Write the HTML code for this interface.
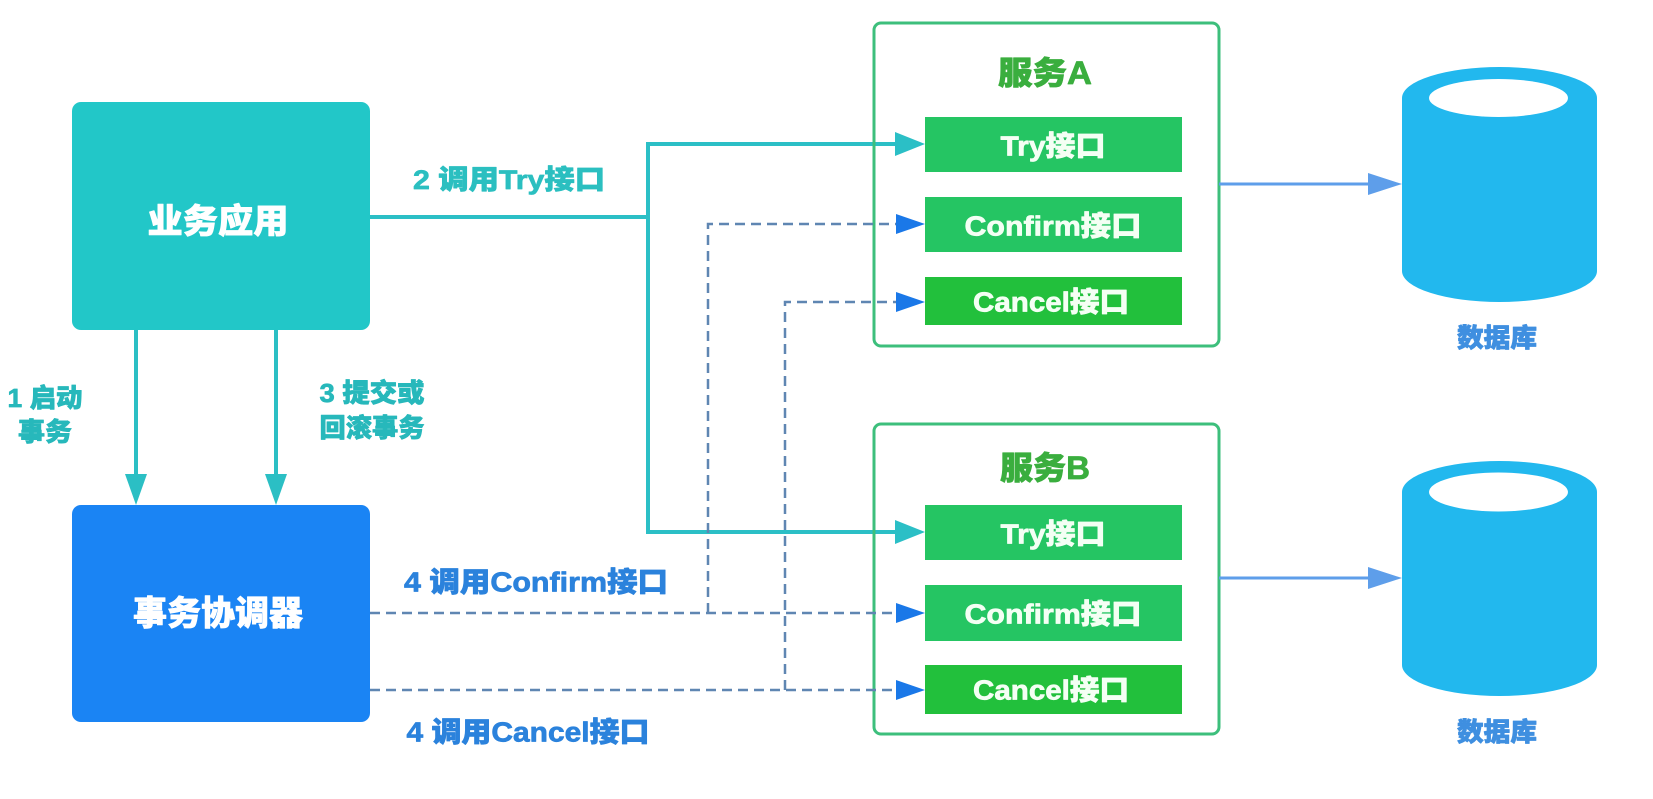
<!DOCTYPE html>
<html>
<head>
<meta charset="utf-8">
<style>
html,body{margin:0;padding:0;background:#fff;}
svg{display:block;}
text{font-family:"Liberation Sans","Noto Sans CJK SC","WenQuanYi Zen Hei",sans-serif;font-weight:900;dominant-baseline:central;stroke-width:0.7;stroke-linejoin:round;}
</style>
</head>
<body>
<svg width="1653" height="799" viewBox="0 0 1653 799" xmlns="http://www.w3.org/2000/svg">
  <rect x="0" y="0" width="1653" height="799" fill="#ffffff"/>

  <!-- 业务应用 -->
  <rect x="72" y="102" width="298" height="228" rx="9" fill="#22c7c8"/>
  <text x="218" y="222" font-size="34" fill="#ffffff" stroke="#ffffff" text-anchor="middle" textLength="141" lengthAdjust="spacingAndGlyphs">业务应用</text>

  <!-- 事务协调器 -->
  <rect x="72" y="505" width="298" height="217" rx="9" fill="#1a84f4"/>
  <text x="218" y="614" font-size="34" fill="#ffffff" stroke="#ffffff" text-anchor="middle" textLength="170" lengthAdjust="spacingAndGlyphs">事务协调器</text>

  <!-- down arrows -->
  <g stroke="#2bbfc4" stroke-width="4" fill="none">
    <line x1="136" y1="330" x2="136" y2="480"/>
    <line x1="276" y1="330" x2="276" y2="480"/>
  </g>
  <polygon points="125,474 147,474 136,505" fill="#2bbfc4"/>
  <polygon points="265,474 287,474 276,505" fill="#2bbfc4"/>

  <!-- left labels -->
  <text x="45" y="398" font-size="26" fill="#27b8bb" stroke="#27b8bb" text-anchor="middle" textLength="75" lengthAdjust="spacingAndGlyphs">1 启动</text>
  <text x="45" y="432" font-size="26" fill="#27b8bb" stroke="#27b8bb" text-anchor="middle" textLength="54" lengthAdjust="spacingAndGlyphs">事务</text>
  <text x="372" y="393" font-size="26" fill="#27b8bb" stroke="#27b8bb" text-anchor="middle" textLength="105" lengthAdjust="spacingAndGlyphs">3 提交或</text>
  <text x="372" y="428" font-size="26" fill="#27b8bb" stroke="#27b8bb" text-anchor="middle" textLength="105" lengthAdjust="spacingAndGlyphs">回滚事务</text>

  <!-- Try label -->
  <text x="509" y="180" font-size="27" fill="#2bbfc0" stroke="#2bbfc0" text-anchor="middle" textLength="192" lengthAdjust="spacingAndGlyphs">2 调用Try接口</text>

  <!-- Try connectors -->
  <g stroke="#2bbfc6" stroke-width="4" fill="none">
    <line x1="370" y1="217" x2="650" y2="217"/>
    <line x1="648" y1="142" x2="648" y2="534"/>
    <line x1="646" y1="144" x2="900" y2="144"/>
    <line x1="646" y1="532" x2="900" y2="532"/>
  </g>
  <polygon points="895,132 895,156 925,144" fill="#2bbfc6"/>
  <polygon points="895,520 895,544 925,532" fill="#2bbfc6"/>

  <!-- containers -->
  <rect x="874" y="23" width="345" height="323" rx="7" fill="none" stroke="#3dbf7c" stroke-width="3"/>
  <rect x="874" y="424" width="345" height="310" rx="7" fill="none" stroke="#3dbf7c" stroke-width="3"/>
  <text x="1045" y="73" font-size="32" fill="#3aae3e" stroke="#3aae3e" text-anchor="middle" textLength="94" lengthAdjust="spacingAndGlyphs">服务A</text>
  <text x="1045" y="468" font-size="32" fill="#3aae3e" stroke="#3aae3e" text-anchor="middle" textLength="90" lengthAdjust="spacingAndGlyphs">服务B</text>

  <!-- service A interfaces -->
  <rect x="925" y="117" width="257" height="55" fill="#25c563"/>
  <rect x="925" y="197" width="257" height="55" fill="#25c563"/>
  <rect x="925" y="277" width="257" height="48" fill="#22c03c"/>
  <text x="1053" y="146" font-size="28" fill="#f4fff4" stroke="#f4fff4" text-anchor="middle" textLength="105" lengthAdjust="spacingAndGlyphs">Try接口</text>
  <text x="1053" y="226" font-size="28" fill="#f4fff4" stroke="#f4fff4" text-anchor="middle" textLength="177" lengthAdjust="spacingAndGlyphs">Confirm接口</text>
  <text x="1051" y="302" font-size="28" fill="#f4fff4" stroke="#f4fff4" text-anchor="middle" textLength="156" lengthAdjust="spacingAndGlyphs">Cancel接口</text>

  <!-- service B interfaces -->
  <rect x="925" y="505" width="257" height="55" fill="#25c563"/>
  <rect x="925" y="585" width="257" height="56" fill="#25c563"/>
  <rect x="925" y="665" width="257" height="49" fill="#22c03c"/>
  <text x="1053" y="534" font-size="28" fill="#f4fff4" stroke="#f4fff4" text-anchor="middle" textLength="105" lengthAdjust="spacingAndGlyphs">Try接口</text>
  <text x="1053" y="614" font-size="28" fill="#f4fff4" stroke="#f4fff4" text-anchor="middle" textLength="177" lengthAdjust="spacingAndGlyphs">Confirm接口</text>
  <text x="1051" y="690" font-size="28" fill="#f4fff4" stroke="#f4fff4" text-anchor="middle" textLength="156" lengthAdjust="spacingAndGlyphs">Cancel接口</text>

  <!-- dashed connectors -->
  <g stroke="#5f86b2" stroke-width="2.5" fill="none" stroke-dasharray="10 6">
    <path d="M370,613 H898"/>
    <path d="M708,613 V224 H898"/>
    <path d="M370,690 H898"/>
    <path d="M785,690 V302 H898"/>
  </g>
  <g fill="#1a78e8">
    <polygon points="896,214 896,234 925,224"/>
    <polygon points="896,292 896,312 925,302"/>
    <polygon points="896,603 896,623 925,613"/>
    <polygon points="896,680 896,700 925,690"/>
  </g>

  <!-- bottom labels -->
  <text x="536" y="582" font-size="28" fill="#2b82dc" stroke="#2b82dc" text-anchor="middle" textLength="264" lengthAdjust="spacingAndGlyphs">4 调用Confirm接口</text>
  <text x="528" y="732" font-size="28" fill="#2b82dc" stroke="#2b82dc" text-anchor="middle" textLength="243" lengthAdjust="spacingAndGlyphs">4 调用Cancel接口</text>

  <!-- db arrows -->
  <g stroke="#5e9eea" stroke-width="3" fill="none">
    <line x1="1219" y1="184" x2="1372" y2="184"/>
    <line x1="1219" y1="578" x2="1372" y2="578"/>
  </g>
  <polygon points="1368,173 1368,195 1402,184" fill="#5e9eea"/>
  <polygon points="1368,567 1368,589 1402,578" fill="#5e9eea"/>

  <!-- cylinders -->
  <path d="M1402,98 A97.5,31 0 0,1 1597,98 V271 A97.5,31 0 0,1 1402,271 Z" fill="#22b8ee"/>
  <ellipse cx="1498.5" cy="98" rx="69.5" ry="19" fill="#ffffff"/>
  <path d="M1402,492 A97.5,31 0 0,1 1597,492 V665 A97.5,31 0 0,1 1402,665 Z" fill="#22b8ee"/>
  <ellipse cx="1498.5" cy="492" rx="69.5" ry="19.5" fill="#ffffff"/>

  <text x="1497" y="338" font-size="26" fill="#3f8fe0" stroke="#3f8fe0" text-anchor="middle" textLength="80" lengthAdjust="spacingAndGlyphs">数据库</text>
  <text x="1497" y="732" font-size="26" fill="#3f8fe0" stroke="#3f8fe0" text-anchor="middle" textLength="80" lengthAdjust="spacingAndGlyphs">数据库</text>
</svg>
</body>
</html>
